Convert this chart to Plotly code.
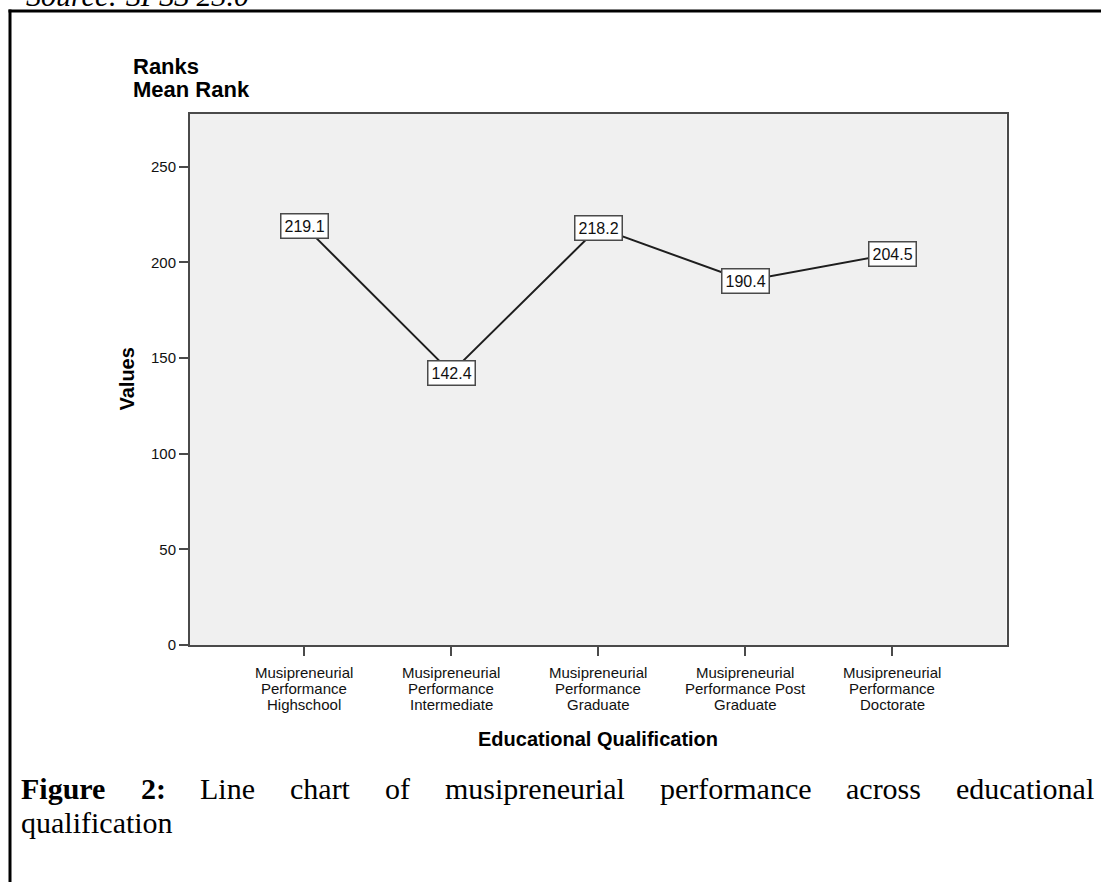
import plotly.graph_objects as go

# ---------------- data ----------------
categories = [
    "Musipreneurial Performance Highschool",
    "Musipreneurial Performance Intermediate",
    "Musipreneurial Performance Graduate",
    "Musipreneurial Performance Post Graduate",
    "Musipreneurial Performance Doctorate",
]
tick_lines = [
    ["Musipreneurial", "Performance", "Highschool"],
    ["Musipreneurial", "Performance", "Intermediate"],
    ["Musipreneurial", "Performance", "Graduate"],
    ["Musipreneurial", "Performance Post", "Graduate"],
    ["Musipreneurial", "Performance", "Doctorate"],
]
mean_rank = [219.1, 142.4, 218.2, 190.4, 204.5]
y_ticks = [0, 50, 100, 150, 200, 250]

title_lines = ["Ranks", "Mean Rank"]
y_title = "Values"
x_title = "Educational Qualification"
source_text = "Source: SPSS 23.0"
caption_line1 = [("Figure", True), ("2:", True), ("Line", False), ("chart", False),
                 ("of", False), ("musipreneurial", False), ("performance", False),
                 ("across", False), ("educational", False)]
caption_line2 = "qualification"

# ---------------- layout helpers ----------------
W, H = 1101, 885
def px(x):
    return x / W
def py(y):
    return 1 - y / H

SANS = "Liberation Sans, Arial, sans-serif"
SERIF = "Liberation Serif, Times New Roman, serif"

fig = go.Figure()
fig.add_trace(go.Scatter(
    x=categories, y=mean_rank, mode="lines",
    line=dict(color="#1e1e1e", width=2),
    hoverinfo="skip", showlegend=False,
))

annotations = []
# value labels in boxes
for c, v in zip(categories, mean_rank):
    annotations.append(dict(
        x=c, y=v, xref="x", yref="y", text=f"{v:.1f}", showarrow=False,
        font=dict(family=SANS, size=16, color="#111"),
        bgcolor="white", bordercolor="#4a4a4a", borderwidth=1.5, borderpad=3,
        xanchor="center", yanchor="middle",
    ))

# x tick labels, line by line (tight spacing like SPSS)
line_centers = [679, 695, 710.5]
for c, lines in zip(categories, tick_lines):
    for ln, yc in zip(lines, line_centers):
        annotations.append(dict(
            x=c, y=py(yc), xref="x", yref="paper", text=ln, showarrow=False,
            font=dict(family=SANS, size=15, color="#111"),
            xanchor="center", yanchor="middle",
        ))

# chart title
for ln, yc in zip(title_lines, [67, 90]):
    annotations.append(dict(
        x=px(131), y=py(yc), xref="paper", yref="paper", text=f"<b>{ln}</b>",
        showarrow=False, font=dict(family=SANS, size=22, color="#000"),
        xanchor="left", yanchor="middle",
    ))

# axis titles
annotations.append(dict(
    x=px(127), y=py(383), xref="paper", yref="paper", text=f"<b>{y_title}</b>",
    showarrow=False, textangle=-90, font=dict(family=SANS, size=20, color="#000"),
    xanchor="center", yanchor="middle",
))
annotations.append(dict(
    x=px(597.5), y=py(746), xref="paper", yref="paper", text=f"<b>{x_title}</b>",
    showarrow=False, font=dict(family=SANS, size=20, color="#000"),
    xanchor="center", yanchor="middle",
))

# source line (cut off at top, as in the reference)
annotations.append(dict(
    x=px(24), y=py(-4.5), xref="paper", yref="paper", text=f"<i>{source_text}</i>",
    showarrow=False, font=dict(family=SERIF, size=30, color="#000"),
    xanchor="left", yanchor="middle",
))

# caption, justified first line
word_x = [19, 138.5, 198.3, 288.1, 382.9, 442.7, 657.5, 843.9, 953.8]
for (w, bold), xx in zip(caption_line1, word_x):
    annotations.append(dict(
        x=px(xx), y=py(796), xref="paper", yref="paper",
        text=f"<b>{w}</b>" if bold else w, showarrow=False,
        font=dict(family=SERIF, size=30, color="#000"),
        xanchor="left", yanchor="middle",
    ))
annotations.append(dict(
    x=px(19), y=py(830), xref="paper", yref="paper", text=caption_line2,
    showarrow=False, font=dict(family=SERIF, size=30, color="#000"),
    xanchor="left", yanchor="middle",
))

shapes = [
    dict(type="line", xref="paper", yref="paper", x0=px(10), x1=px(10),
         y0=py(9.5), y1=py(H + 5), line=dict(color="#000", width=3)),
    dict(type="line", xref="paper", yref="paper", x0=px(8.5), x1=px(W + 5),
         y0=py(11), y1=py(11), line=dict(color="#000", width=3)),
]

fig.update_layout(
    width=W, height=H, autosize=False,
    margin=dict(l=0, r=0, t=0, b=0),
    paper_bgcolor="white", plot_bgcolor="#f0f0f0",
    showlegend=False,
    annotations=annotations, shapes=shapes,
    xaxis=dict(
        type="category", domain=[px(190), px(1006.5)], range=[-0.776, 4.776],
        showgrid=False, zeroline=False, showline=True, linecolor="#4a4a4a",
        linewidth=2, mirror=True, ticks="outside", ticklen=9, tickwidth=2,
        tickcolor="#4a4a4a", showticklabels=False, fixedrange=True,
    ),
    yaxis=dict(
        domain=[py(651), py(115)], range=[0, 277.6],
        tickvals=y_ticks, ticktext=[str(t) for t in y_ticks],
        showgrid=False, zeroline=False, showline=True, linecolor="#4a4a4a",
        linewidth=2, mirror=True, ticks="outside", ticklen=9, tickwidth=2,
        tickcolor="#4a4a4a", tickfont=dict(family=SANS, size=15, color="#111"),
        fixedrange=True,
    ),
)

fig.write_html(
    "out.html",
    config={"displayModeBar": False, "staticPlot": False},
    post_script="document.body.style.margin='0px';document.body.style.overflow='hidden';",
)
